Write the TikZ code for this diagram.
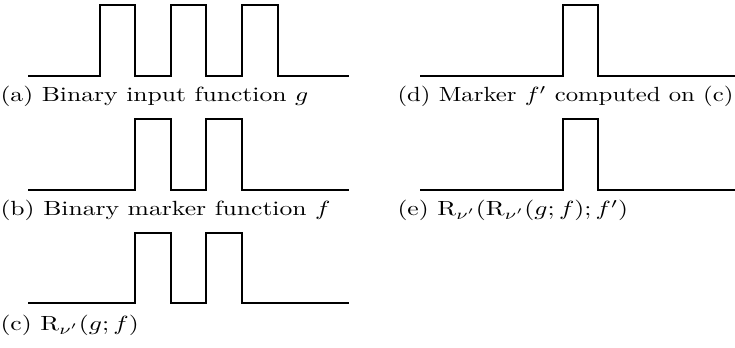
\documentclass[tikz,border=0pt]{standalone}
\begin{document}
\begin{tikzpicture}[x=0.39pt,y=-0.39pt,
  wave/.style={line width=0.4pt,line join=miter},
  captxt/.style={anchor=base west,inner sep=0pt,font=\fontsize{10}{12}\selectfont}]
\useasboundingbox (0,0) rectangle (735,348);
% (a)
\draw[wave] (28,76) -- (100,76) -- (100,5) -- (135,5) -- (135,76) -- (171,76) -- (171,5) -- (206,5) -- (206,76) -- (242,76) -- (242,5) -- (278,5) -- (278,76) -- (349,76);
\node[captxt] (ca) at (0,102) {\scalebox{1}[0.8]{(a) Binary input function $g$}};
% (b)
\draw[wave] (28,190) -- (135,190) -- (135,119) -- (171,119) -- (171,190) -- (206,190) -- (206,119) -- (242,119) -- (242,190) -- (349,190);
\node[captxt] (cb) at (0,216) {\scalebox{1}[0.8]{(b) Binary marker function $f$}};
% (c)
\draw[wave] (28,303) -- (135,303) -- (135,233) -- (171,233) -- (171,303) -- (206,303) -- (206,233) -- (242,233) -- (242,303) -- (349,303);
\node[captxt] (cc) at (0,331) {\scalebox{1}[0.8]{(c) $\mathrm{R}_{\nu'}(g;f)$}};
% (d)
\draw[wave] (420,76) -- (563,76) -- (563,5) -- (598,5) -- (598,76) -- (735,76);
\node[captxt] (cd) at (397,102) {\scalebox{0.965}[0.8]{(d) Marker $f'$ computed on (c)}};
% (e)
\draw[wave] (420,190) -- (563,190) -- (563,119) -- (598,119) -- (598,190) -- (735,190);
\node[captxt] (ce) at (397,216) {\scalebox{1}[0.8]{(e) $\mathrm{R}_{\nu'}(\mathrm{R}_{\nu'}(g;f);f')$}};
\end{tikzpicture}
\end{document}
